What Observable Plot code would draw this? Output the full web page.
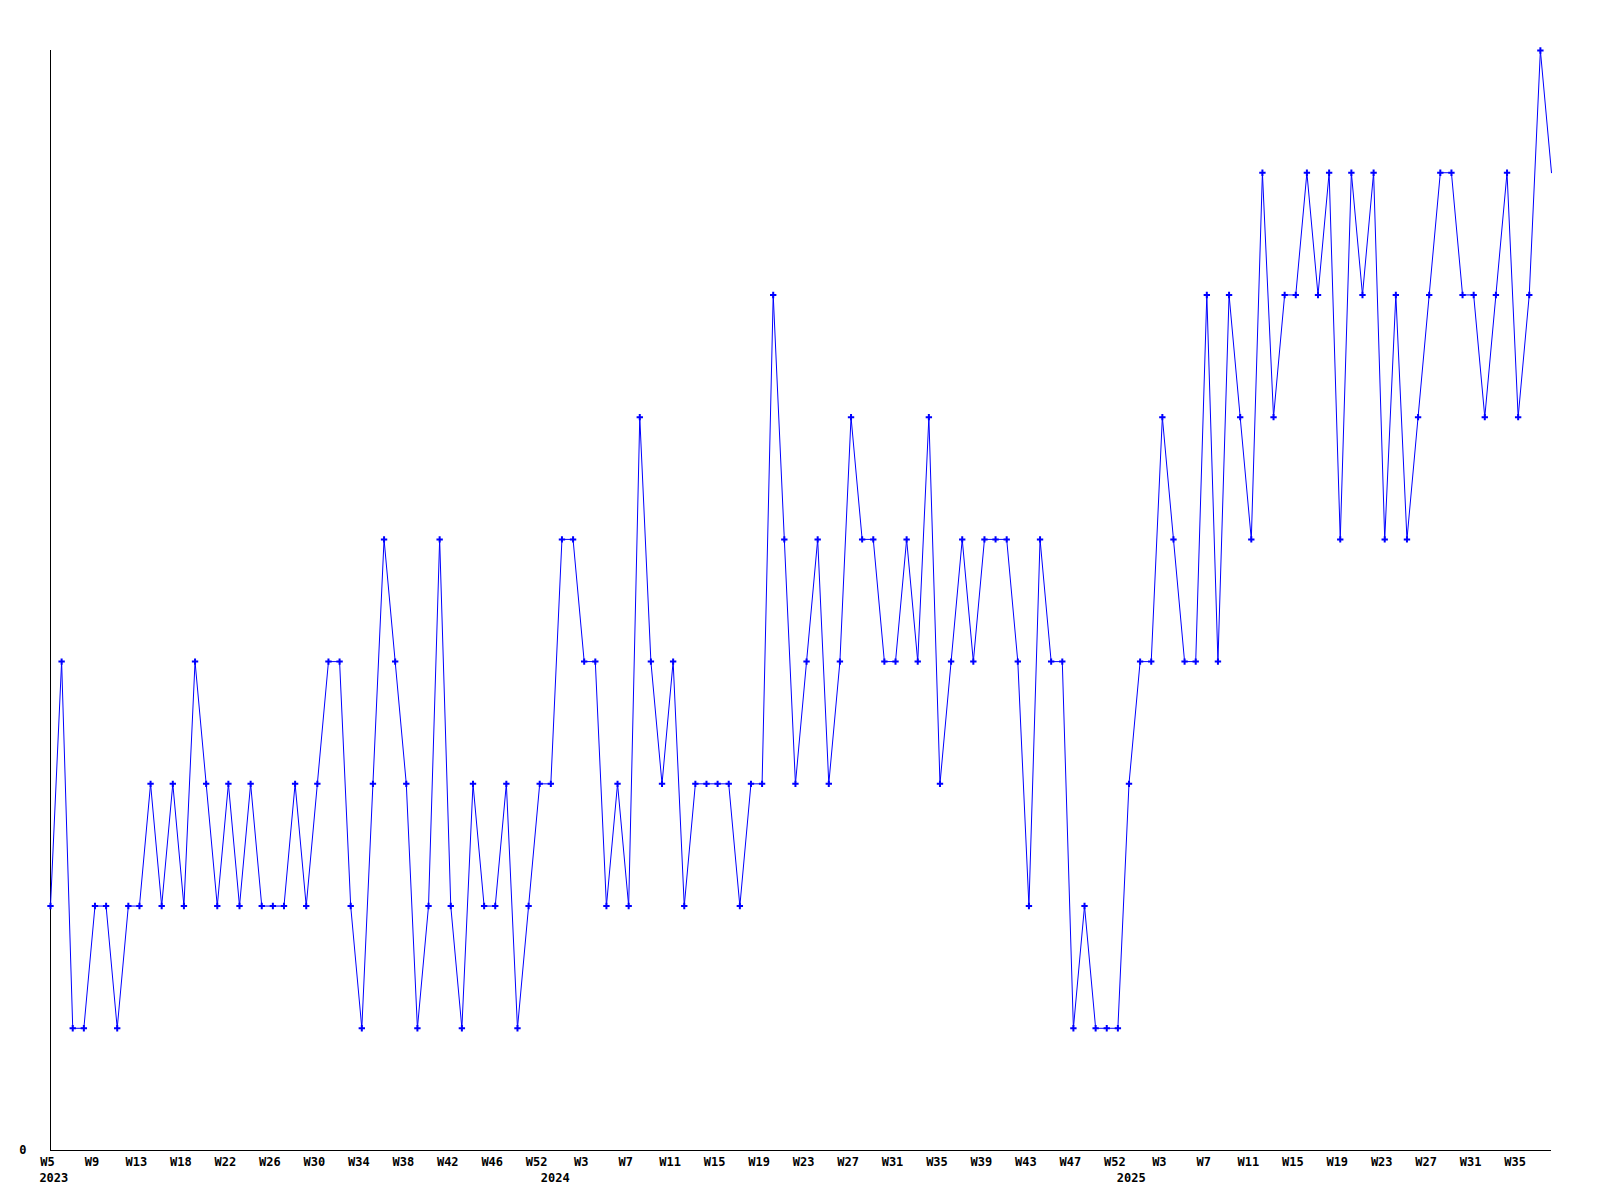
<!DOCTYPE html>
<html>
<head>
<meta charset="utf-8">
<script src="https://cdn.jsdelivr.net/npm/d3@7"></script>
<script src="https://cdn.jsdelivr.net/npm/@observablehq/plot@0.6"></script>
<style>
  html, body { margin: 0; padding: 0; background: #fff; }
</style>
</head>
<body>
<div id="chart"></div>
<script>
// Weekly values, 2023 W5 onward
const values = [
  2,4,1,1,2,2,1,2,2,3,
  2,3,2,4,3,2,3,2,3,2,
  2,2,3,2,3,4,4,2,1,3,
  5,4,3,1,2,5,2,1,3,2,
  2,3,1,2,3,3,5,5,4,4,
  2,3,2,6,4,3,4,2,3,3,
  3,3,2,3,3,7,5,3,4,5,
  3,4,6,5,5,4,4,5,4,6,
  3,4,5,4,5,5,5,4,2,5,
  4,4,1,2,1,1,1,3,4,4,
  6,5,4,4,7,4,7,6,5,8,
  6,7,7,8,7,8,5,8,7,8,
  5,7,5,6,7,8,8,7,7,6,
  7,8,6,7,9,8
];

// Week tick labels (one every 4 data points)
const weekLabels = [
  "W5","W9","W13","W18","W22","W26","W30","W34","W38","W42","W46","W52",
  "W3","W7","W11","W15","W19","W23","W27","W31","W35","W39","W43","W47","W52",
  "W3","W7","W11","W15","W19","W23","W27","W31","W35"
];
// Year labels and the week index they sit under
const yearLabels = ["2023", "2024", "2025"];
const yearIndex = [0.3, 45.4, 97.2];

const data = values.map((v, i) => ({i, v}));
const weekTicks = weekLabels.map((_, k) => k * 4);

const chart = Plot.plot({
  width: 1600,
  height: 1200,
  marginLeft: 50,
  marginRight: 49,
  marginTop: 50,
  marginBottom: 50,
  style: {fontFamily: "'DejaVu Sans Mono', monospace", fontSize: "12px", fontWeight: "bold", color: "#000", background: "#fff"},
  x: {type: "linear", domain: [0, values.length - 1]},
  y: {domain: [0, 9]},
  marks: [
    Plot.axisX(weekTicks, {tickSize: 0, tickPadding: 7, dx: -3, tickFormat: d => weekLabels[d / 4], label: null}),
    Plot.axisX(yearIndex, {tickSize: 0, tickPadding: 23, tickFormat: d => yearLabels[yearIndex.indexOf(d)], label: null}),
    Plot.axisY([0], {tickSize: 0, tickPadding: 24, tickFormat: d => String(d), label: null}),
    Plot.ruleX([0], {stroke: "#000", strokeWidth: 1}),
    Plot.ruleY([0], {stroke: "#000", strokeWidth: 1}),
    Plot.line(data, {x: "i", y: "v", stroke: "#0000ff", strokeWidth: 1}),
    Plot.dot(data.slice(0, -1), {x: "i", y: "v", symbol: "plus", r: 2.2, stroke: "#0000ff", strokeWidth: 2})
  ]
});
document.getElementById("chart").append(chart);
</script>
</body>
</html>
